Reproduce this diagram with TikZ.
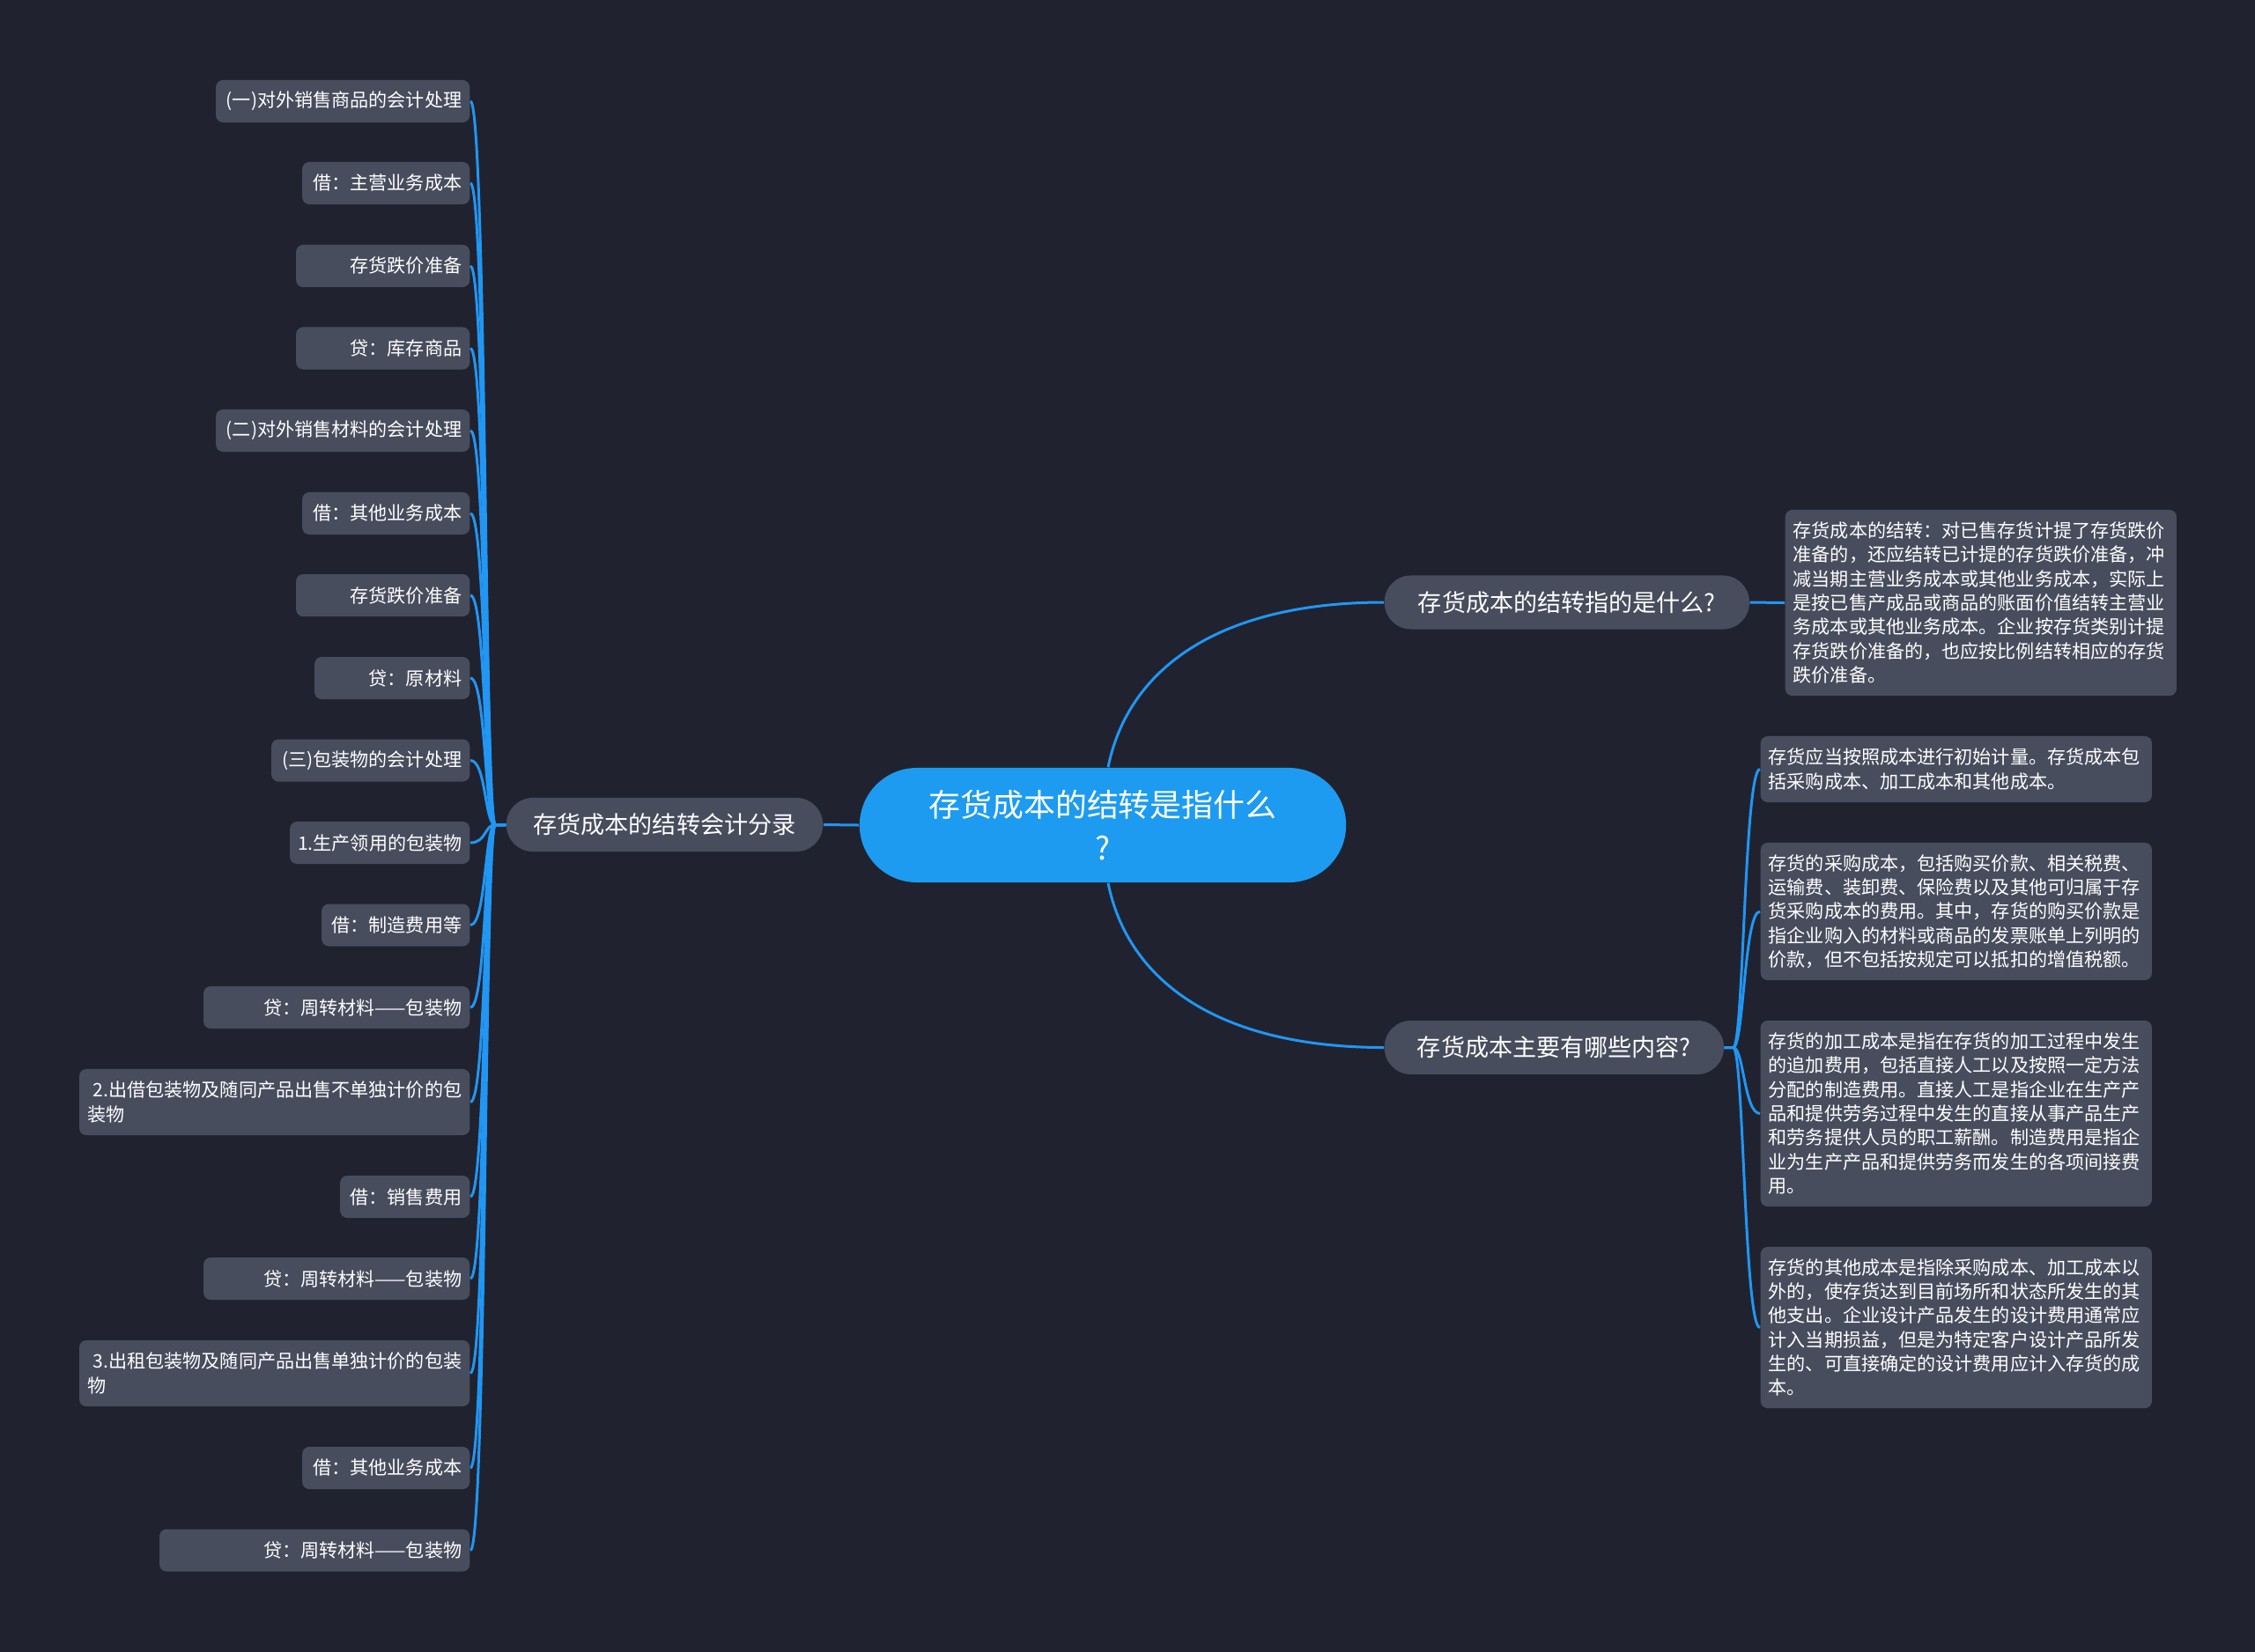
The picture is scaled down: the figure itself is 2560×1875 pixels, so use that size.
\documentclass[tikz,border=0pt]{standalone}
\usepackage{fontspec}
\setmainfont{Noto Sans CJK SC}
\usepackage{xcolor}

\definecolor{bgnavy}{HTML}{20232F}
\definecolor{cardgray}{HTML}{474D5D}
\definecolor{rootblue}{HTML}{1D9BF0}
\definecolor{linkblue}{HTML}{2196F3}

\begin{document}
\begin{tikzpicture}[x=0.01cm, y=-0.01cm,
  every node/.style={text=white, inner sep=0pt},
  card/.style={fill=cardgray, rounded corners=0.8mm, inner xsep=0.9mm,
    font=\fontsize{6pt}{7.77pt}\selectfont},
  leaf/.style={card, anchor=east, align=right},
  para/.style={card, anchor=west, align=left, text width=42.6mm},
  topic/.style={fill=cardgray, rounded corners=3mm, minimum height=6.1mm,
    font=\fontsize{7.7pt}{9pt}\selectfont},
  link/.style={draw=linkblue, line width=0.85pt}]
  % Background
  \useasboundingbox (0,0) rectangle (2560,1875);
  \fill[bgnavy] (-10,-10) rectangle (2570,1885);

  % Centre and main topics
  \node[fill=rootblue, rounded corners=6.5mm, minimum width=55.2mm, minimum height=13mm,
    align=center, font=\fontsize{10.2pt}{13.9pt}\selectfont] (root) at (1252,937)
    {存货成本的结转是指什么\\?};
  \node[topic, anchor=west, minimum width=41.4mm] (b1) at (1571,684) {存货成本的结转指的是什么?};
  \node[topic, anchor=west, minimum width=38.5mm] (b2) at (1571,1189.5) {存货成本主要有哪些内容?};
  \node[topic, minimum width=35.9mm] (b3) at (754.5,936.5) {存货成本的结转会计分录};

  \draw[link] (root.west) -- (b3.east);
  \draw[link] ([xshift=0.6mm]root.north) .. controls +(22,-110) and +(-190,0) .. (b1.west);
  \draw[link] ([xshift=0.6mm]root.south) .. controls +(22,110) and +(-190,0) .. (b2.west);

  % Journal entries on the left
  \foreach \i/\yy/\xl/\hh/\txt in {
      1/115/246/4.8/{(一)对外销售商品的会计处理},
      2/208/344/4.8/{借：主营业务成本},
      3/302/337/4.8/{存货跌价准备},
      4/395.5/337/4.8/{贷：库存商品},
      5/489/246/4.8/{(二)对外销售材料的会计处理},
      6/583/344/4.8/{借：其他业务成本},
      7/676/337/4.8/{存货跌价准备},
      8/770/358/4.8/{贷：原材料},
      9/863.5/309/4.8/{(三)包装物的会计处理},
      10/957/330/4.8/{1.生产领用的包装物},
      11/1050.5/366/4.8/{借：制造费用等},
      12/1144/232/4.8/{贷：周转材料——包装物},
      13/1251.5/91/7.5/{2.出借包装物及随同产品出售不单独计价的包\\装物\hfill\mbox{}},
      14/1359/387/4.8/{借：销售费用},
      15/1452/232/4.8/{贷：周转材料——包装物},
      16/1559.5/91/7.5/{3.出租包装物及随同产品出售单独计价的包装\\物\hfill\mbox{}},
      17/1667/344/4.8/{借：其他业务成本},
      18/1760.5/182/4.8/{贷：周转材料——包装物}} {
    \pgfmathsetmacro\tw{(534-\xl-18)*0.1}
    \node[leaf, text width=\tw mm, minimum height=\hh mm] (l\i) at (534,\yy) {\txt};
    \draw[link] (b3.west) -- ++(-12,0) .. controls +(-12,0) and +(18,0) .. (l\i.east);
  }

  % Explanations on the right
  \node[para, minimum height=21.1mm] (r1) at (2026,684.5)
    {存货成本的结转：对已售存货计提了存货跌价\\准备的，还应结转已计提的存货跌价准备，冲\\减当期主营业务成本或其他业务成本，实际上\\是按已售产成品或商品的账面价值结转主营业\\务成本或其他业务成本。企业按存货类别计提\\存货跌价准备的，也应按比例结转相应的存货\\跌价准备。};
  \draw[link] (b1.east) -- (r1.west);

  \node[para, minimum height=7.5mm] (r2) at (1998,873.5)
    {存货应当按照成本进行初始计量。存货成本包\\括采购成本、加工成本和其他成本。};
  \node[para, minimum height=15.6mm] (r3) at (1998,1035)
    {存货的采购成本，包括购买价款、相关税费、\\运输费、装卸费、保险费以及其他可归属于存\\货采购成本的费用。其中，存货的购买价款是\\指企业购入的材料或商品的发票账单上列明的\\价款，但不包括按规定可以抵扣的增值税额。};
  \node[para, minimum height=21.1mm] (r4) at (1998,1264.5)
    {存货的加工成本是指在存货的加工过程中发生\\的追加费用，包括直接人工以及按照一定方法\\分配的制造费用。直接人工是指企业在生产产\\品和提供劳务过程中发生的直接从事产品生产\\和劳务提供人员的职工薪酬。制造费用是指企\\业为生产产品和提供劳务而发生的各项间接费\\用。};
  \node[para, minimum height=18.3mm] (r5) at (1998,1507.5)
    {存货的其他成本是指除采购成本、加工成本以\\外的，使存货达到目前场所和状态所发生的其\\他支出。企业设计产品发生的设计费用通常应\\计入当期损益，但是为特定客户设计产品所发\\生的、可直接确定的设计费用应计入存货的成\\本。};
  \foreach \r in {r2,r3,r4,r5}
    \draw[link] (b2.east) -- ++(10,0) .. controls +(12,0) and +(-18,0) .. (\r.west);
\end{tikzpicture}
\end{document}
